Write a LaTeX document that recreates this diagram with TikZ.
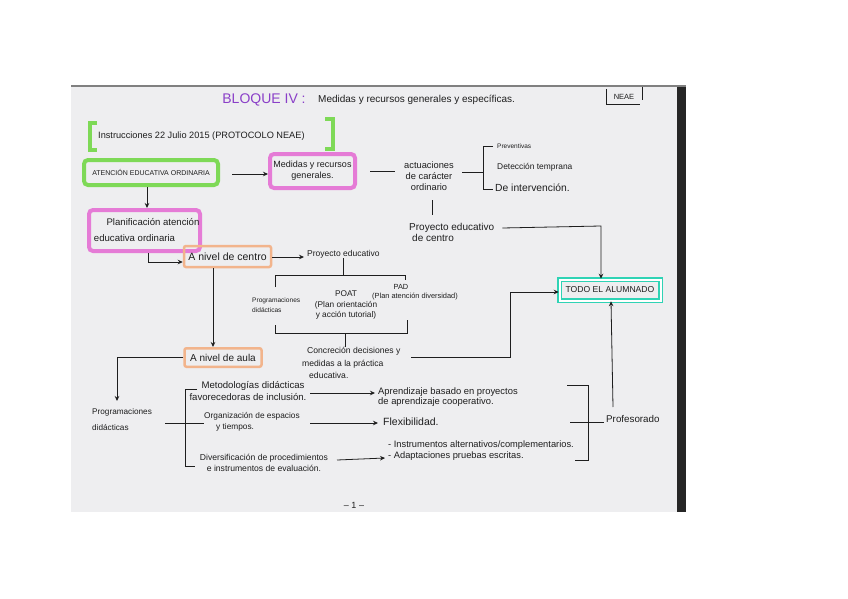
\documentclass[tikz,border=0pt]{standalone}
\usepackage{fontspec}
\setmainfont{Liberation Sans}
\usetikzlibrary{arrows.meta,calc}
\definecolor{paper}{HTML}{EEEEF0}
\definecolor{band}{HTML}{262626}
\definecolor{mkgreen}{HTML}{7ED957}
\definecolor{mkpink}{HTML}{E57BD6}
\definecolor{mkorange}{HTML}{F2B48C}
\definecolor{mkteal}{HTML}{2FD3B5}
\definecolor{mkpurple}{HTML}{8A3FC8}
\definecolor{ink}{HTML}{1E1E1E}
\tikzset{
  txt/.style={font=\fontsize{9}{11}\selectfont, inner sep=0pt, text=ink, align=center},
  greenbox/.style={txt, draw=mkgreen, line width=4pt, rounded corners=4pt},
  pinkbox/.style={txt, draw=mkpink, line width=4pt, rounded corners=4pt},
  orangebox/.style={txt, draw=mkorange, line width=2.5pt, rounded corners=2pt},
  pen/.style={draw=ink, line width=0.8pt},
  arr/.style={pen, -{Stealth[length=5pt,width=4.5pt]}},
}
\begin{document}
\begin{tikzpicture}[x=1pt,y=-1pt]
\useasboundingbox (0,0) rectangle (848,599);
\fill[white] (0,0) rectangle (848,599);
\fill[paper] (71,86) rectangle (686,512);
\fill[band] (677,86) rectangle (686,512);
\draw[gray, line width=1.2pt] (71,86) -- (686,86);

% title
\node[txt, text=mkpurple, font=\fontsize{14}{16}\selectfont] (bloque) at (264,100) {BLOQUE IV :};
\node[txt, anchor=west, font=\fontsize{10}{12}\selectfont] (titulo) at (318,100) {Medidas y recursos generales y específicas.};
\node[txt, font=\fontsize{7.5}{9}\selectfont] (neae) at (624,97) {NEAE};
\draw[pen] (606,89) -- (606,104) -- (640,104);
\draw[pen] (642,87) -- (642,100);

% instrucciones
\node[txt, anchor=west, font=\fontsize{9.2}{11}\selectfont] (instr) at (98,136) {Instrucciones 22 Julio 2015 (PROTOCOLO NEAE)};
\draw[mkgreen, line width=4pt] (97,123) -- (90,123) -- (90,150) -- (97,150);
\draw[mkgreen, line width=4pt] (325,119) -- (333,119) -- (333,149) -- (325,149);

% top row
\node[greenbox, font=\fontsize{7}{8}\selectfont, minimum width=134pt, minimum height=25pt] (aten) at (151,172.5) {ATENCIÓN EDUCATIVA ORDINARIA};
\node[pinkbox, minimum width=85pt, minimum height=34pt] (medidas) at (312.5,171) {Medidas y recursos\\generales.};
\node[txt, font=\fontsize{9.3}{11}\selectfont] (actu) at (429,176) {actuaciones\\de carácter\\ordinario};
\node[txt, anchor=west, font=\fontsize{6.5}{8}\selectfont] (prev) at (497,146) {Preventivas};
\node[txt, anchor=west, font=\fontsize{8.4}{10}\selectfont] (dete) at (497,167) {Detección temprana};
\node[txt, anchor=west, font=\fontsize{10.3}{12}\selectfont] (inter) at (495,188) {De intervención.};
\node[txt, anchor=west, align=left, font=\fontsize{10}{11}\selectfont] (pec) at (409,232) {Proyecto educativo\\\hspace*{3pt}de centro};

\draw[arr] ([xshift=12pt]aten.east |- 0,174) -- (medidas.west |- 0,174);
\draw[pen] (370,171) -- (395,171);
\draw[pen] (462,172) -- (483,172);
\draw[pen] (493,146) -- (483,146) -- (483,189) -- (493,189);
\draw[pen] (432,200) -- (432,215);

% planificacion
\node[pinkbox, font=\fontsize{9.6}{16}\selectfont, minimum width=111pt, minimum height=41pt] (plan) at (144.5,230.5) {\hspace*{17pt}Planificación atención\\educativa ordinaria\hspace*{20pt}};
\draw[arr] (aten.south -| 147,0) -- (plan.north -| 147,0);

% centro
\node[orangebox, font=\fontsize{10.5}{12}\selectfont, minimum width=87pt, minimum height=21pt] (centro) at (227.5,256.5) {A nivel de centro};
\draw[arr] (plan.south -| 148,0) |- (centro.west |- 0,262);
\node[txt, anchor=west, font=\fontsize{8.5}{10}\selectfont] (pe) at (307,254) {Proyecto educativo};
\draw[arr] (centro.east |- 0,257) -- ([xshift=-3pt]pe.west |- 0,257);

\node[txt, anchor=west, align=left, font=\fontsize{6.6}{10}\selectfont] (prog1) at (252,305) {Programaciones\\didácticas};
\node[txt, font=\fontsize{8.3}{10.5}\selectfont] (poat) at (346,305) {POAT\\(Plan orientación\\y acción tutorial)};
\node[txt, font=\fontsize{7.4}{8.5}\selectfont] (pad) at (415,292) {PAD\hspace*{28pt}\\(Plan atención diversidad)};
\draw[pen] (pe.south -| 343,0) -- (343,275);
\draw[pen] (275,287) -- (275,275) -- (405,275) -- (405,280);
\draw[pen] (275,325) -- (275,333) -- (407,333) -- (407,320);
\node[txt, anchor=west, align=left, font=\fontsize{8.6}{12.5}\selectfont] (concr) at (302,363) {\hspace*{5pt}Concreción decisiones y\\medidas a la práctica\\\hspace*{7pt}educativa.};
\draw[pen] (345,333) -- (concr.north -| 345,0);

% todo el alumnado
\node[txt, draw=mkteal, line width=1.5pt, double=white, double distance=2pt, minimum width=101pt, minimum height=21pt, font=\fontsize{8.6}{10}\selectfont] (todo) at (610,290) {TODO EL ALUMNADO};
\draw[arr] ([xshift=8pt]pec.east |- 0,228) -- (601,226) -- (todo.north -| 601,0);
\draw[arr] (411,357) -| (510,292) -- (todo.west |- 0,292);

% aula
\node[orangebox, font=\fontsize{10}{12}\selectfont, minimum width=77pt, minimum height=18.5pt] (aula) at (223,357.5) {A nivel de aula};
\draw[arr] (centro.south -| 213,0) -- (aula.north -| 213,0);
\node[txt, anchor=west, align=left, font=\fontsize{8.2}{16}\selectfont] (prog2) at (92,420) {Programaciones\\didácticas};
\draw[arr] (aula.west) -| (117,401);

\node[txt, font=\fontsize{9.6}{12}\selectfont] (meto) at (248,391) {\hspace*{10pt}Metodologías didácticas\\favorecedoras de inclusión.};
\node[txt, anchor=west, align=left, font=\fontsize{8.3}{11}\selectfont] (orga) at (204,422) {Organización de espacios\\\hspace*{12pt}y tiempos.};
\node[txt, font=\fontsize{8.6}{11}\selectfont] (dive) at (264,462.5) {Diversificación de procedimientos\\e instrumentos de evaluación.};
\draw[pen] (165,423) -- (orga.west |- 0,423);
\draw[pen] (197,389) -- (185,389) -- (185,466) -- (195,466);

\node[txt, anchor=west, align=left, font=\fontsize{9.4}{10.5}\selectfont] (apre) at (378,397) {Aprendizaje basado en proyectos\\de aprendizaje cooperativo.};
\node[txt, anchor=west, font=\fontsize{10.5}{12}\selectfont] (flex) at (383,422) {Flexibilidad.};
\node[txt, anchor=west, align=left, font=\fontsize{9.3}{11}\selectfont] (inst) at (388,450.5) {- Instrumentos alternativos/complementarios.\\- Adaptaciones pruebas escritas.};
\draw[arr] (310,393) -- ([xshift=-3pt]apre.west |- 0,393);
\draw[arr] (310,423) -- ([xshift=-5pt]flex.west |- 0,423);
\draw[arr] (337,460) -- ([xshift=-3pt]inst.west |- 0,458);

\node[txt, anchor=west, font=\fontsize{9.8}{12}\selectfont] (prof) at (606,419) {Profesorado};
\draw[pen] (567,385) -- (588,385) -- (588,460) -- (575,460);
\draw[pen] (570,422) -- ([xshift=-2pt]prof.west |- 0,422);
\draw[arr] (613,407) -- (todo.south -| 611,0);

\node[txt, font=\fontsize{9}{10}\selectfont] (page) at (354,505) {-- 1 --};
\end{tikzpicture}
\end{document}
